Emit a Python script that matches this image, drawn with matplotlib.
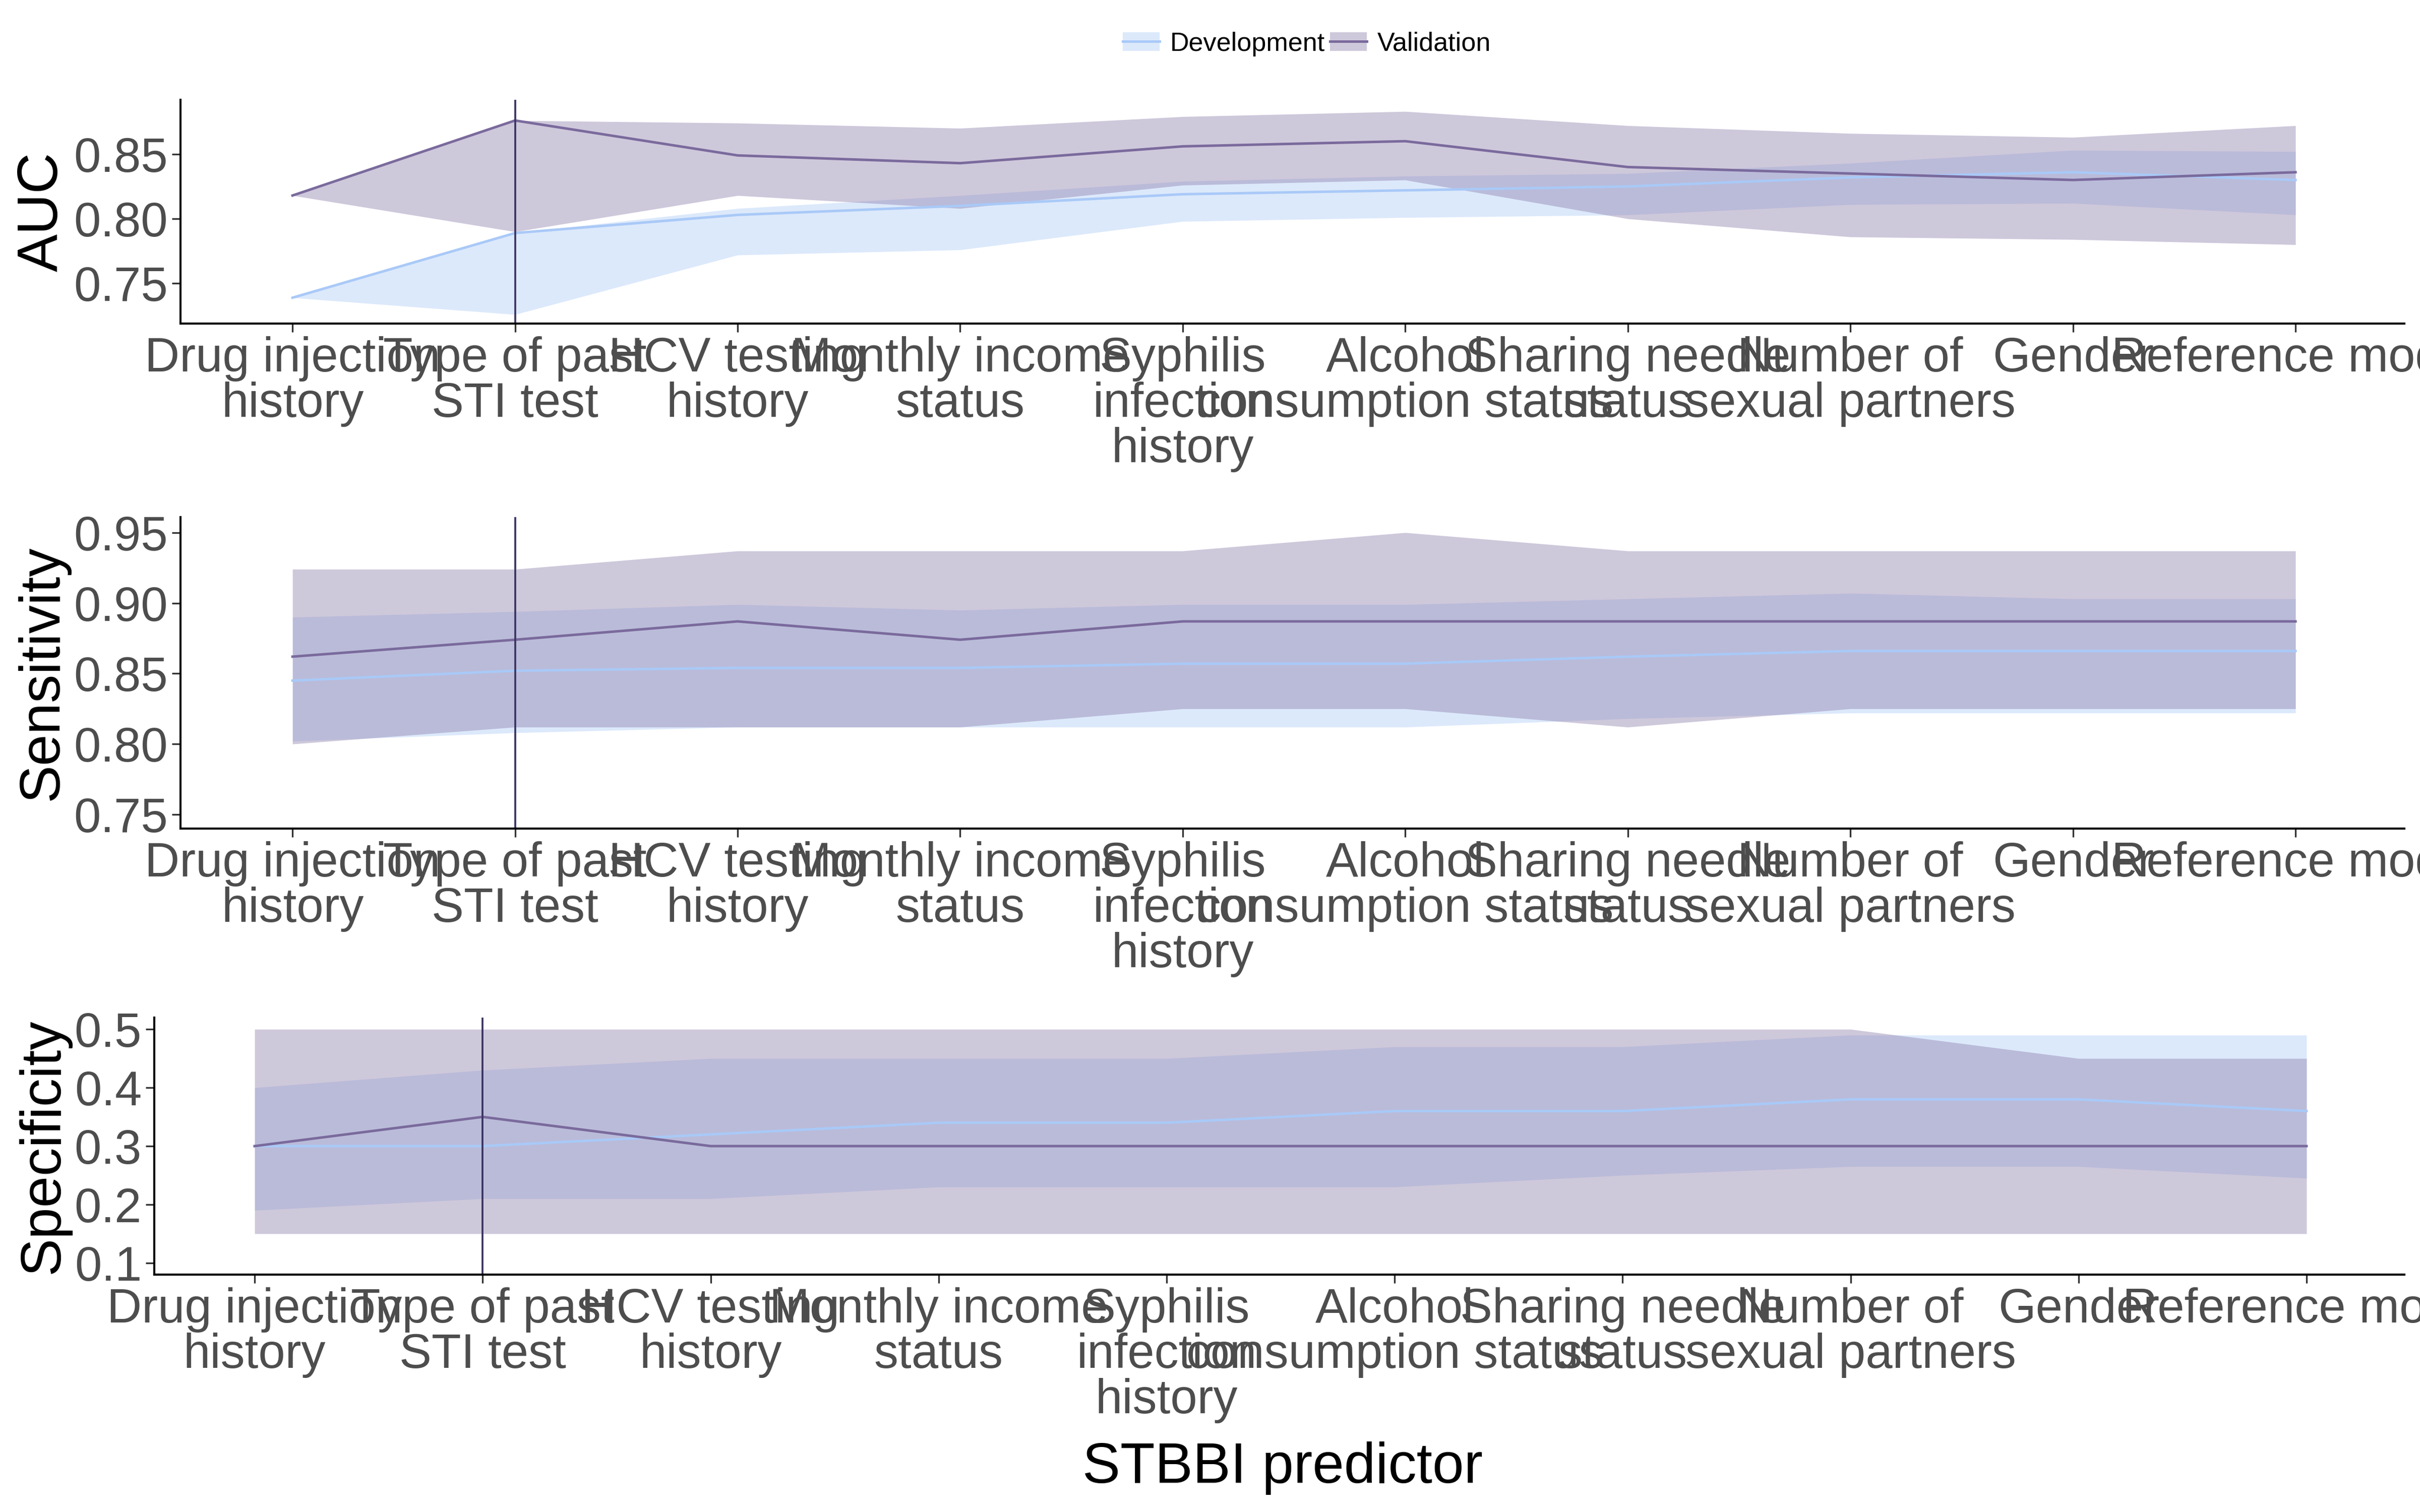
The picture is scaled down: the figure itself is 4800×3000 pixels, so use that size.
import matplotlib

matplotlib.use("Agg")
import matplotlib.pyplot as plt
from matplotlib.patches import Patch
from matplotlib.lines import Line2D

plt.rcParams["font.family"] = ["Liberation Sans", "DejaVu Sans"]

predictors = [
    "Drug injection\nhistory", "Type of past\nSTI test", "HCV testing\nhistory",
    "Monthly income\nstatus", "Syphilis\ninfection\nhistory", "Alcohol\nconsumption status",
    "Sharing needle\nstatus", "Number of\nsexual partners", "Gender", "Reference model",
]

auc_dev = [0.739, 0.789, 0.803, 0.810, 0.819, 0.822, 0.825, 0.832, 0.836, 0.830]
auc_dev_hi = [0.739, 0.789, 0.808, 0.818, 0.829, 0.833, 0.835, 0.843, 0.853, 0.852]
auc_dev_lo = [0.739, 0.726, 0.772, 0.776, 0.798, 0.801, 0.803, 0.811, 0.812, 0.803]
auc_val = [0.818, 0.876, 0.849, 0.843, 0.856, 0.860, 0.840, 0.835, 0.830, 0.836]
auc_val_hi = [0.818, 0.876, 0.874, 0.870, 0.879, 0.883, 0.872, 0.866, 0.863, 0.872]
auc_val_lo = [0.818, 0.790, 0.818, 0.808, 0.826, 0.830, 0.800, 0.786, 0.784, 0.780]

sen_dev = [0.845, 0.852, 0.854, 0.854, 0.857, 0.857, 0.862, 0.866, 0.866, 0.866]
sen_dev_hi = [0.890, 0.894, 0.899, 0.895, 0.899, 0.899, 0.903, 0.907, 0.903, 0.903]
sen_dev_lo = [0.802, 0.808, 0.812, 0.812, 0.812, 0.812, 0.818, 0.822, 0.822, 0.822]
sen_val = [0.862, 0.874, 0.887, 0.874, 0.887, 0.887, 0.887, 0.887, 0.887, 0.887]
sen_val_hi = [0.924, 0.924, 0.937, 0.937, 0.937, 0.950, 0.937, 0.937, 0.937, 0.937]
sen_val_lo = [0.800, 0.812, 0.812, 0.812, 0.825, 0.825, 0.812, 0.825, 0.825, 0.825]

spe_dev = [0.30, 0.30, 0.32, 0.34, 0.34, 0.36, 0.36, 0.38, 0.38, 0.36]
spe_dev_hi = [0.40, 0.43, 0.45, 0.45, 0.45, 0.47, 0.47, 0.49, 0.49, 0.49]
spe_dev_lo = [0.19, 0.21, 0.21, 0.23, 0.23, 0.23, 0.25, 0.265, 0.265, 0.245]
spe_val = [0.30, 0.35, 0.30, 0.30, 0.30, 0.30, 0.30, 0.30, 0.30, 0.30]
spe_val_hi = [0.50, 0.50, 0.50, 0.50, 0.50, 0.50, 0.50, 0.50, 0.45, 0.45]
spe_val_lo = [0.15, 0.15, 0.15, 0.15, 0.15, 0.15, 0.15, 0.15, 0.15, 0.15]

DEV_LINE, DEV_FILL = "#a9c9f7", "#a9c9f7"
VAL_LINE, VAL_FILL = "#7a6a9c", "#8c7caa"

panels = [
    ("AUC", [0.117 / 1.568, 0.786, (1.558 - 0.117) / 1.568, 0.148], (0.719, 0.892),
     [0.75, 0.80, 0.85], "{:.2f}", (-0.503, 9.49),
     auc_dev, auc_dev_lo, auc_dev_hi, auc_val, auc_val_lo, auc_val_hi),
    ("Sensitivity", [0.117 / 1.568, 0.452, (1.558 - 0.117) / 1.568, 0.206], (0.740, 0.961),
     [0.75, 0.80, 0.85, 0.90, 0.95], "{:.2f}", (-0.503, 9.49),
     sen_dev, sen_dev_lo, sen_dev_hi, sen_val, sen_val_lo, sen_val_hi),
    ("Specificity", [0.100 / 1.568, 0.157, (1.558 - 0.100) / 1.568, 0.170], (0.08, 0.52),
     [0.1, 0.2, 0.3, 0.4, 0.5], "{:.1f}", (-0.44, 9.43),
     spe_dev, spe_dev_lo, spe_dev_hi, spe_val, spe_val_lo, spe_val_hi),
]

fig = plt.figure(figsize=(16, 10), dpi=300)
x = list(range(len(predictors)))

for (name, rect, ylim, yticks, fmt, xlim,
     dev, dev_lo, dev_hi, val, val_lo, val_hi) in panels:
    ax = fig.add_axes(rect)
    ax.fill_between(x, dev_lo, dev_hi, color=DEV_FILL, alpha=0.4, linewidth=0)
    ax.fill_between(x, val_lo, val_hi, color=VAL_FILL, alpha=0.42, linewidth=0)
    ax.plot(x, dev, color=DEV_LINE, linewidth=1.2)
    ax.plot(x, val, color=VAL_LINE, linewidth=1.2)
    ax.axvline(1, color="#3b3462", linewidth=0.9)
    ax.set_xlim(*xlim)
    ax.set_ylim(*ylim)
    ax.set_yticks(yticks)
    ax.set_yticklabels([fmt.format(t) for t in yticks])
    ax.set_xticks(x)
    ax.set_xticklabels(predictors, linespacing=1.0)
    ax.tick_params(labelsize=23, labelcolor="#4d4d4d", length=4, width=0.8, color="#333333",
                   pad=2)
    ax.set_ylabel(name, fontsize=27, labelpad=2)
    for side in ("top", "right"):
        ax.spines[side].set_visible(False)
    for side in ("left", "bottom"):
        ax.spines[side].set_linewidth(1.0)

fig.text(0.53, 0.029, "STBBI predictor", fontsize=27, ha="center", va="center")

handles = [
    (Patch(facecolor=DEV_FILL, alpha=0.4), Line2D([], [], color=DEV_LINE, linewidth=1.2)),
    (Patch(facecolor=VAL_FILL, alpha=0.42), Line2D([], [], color=VAL_LINE, linewidth=1.2)),
]
fig.legend(handles, ["Development", "Validation"], loc="center", bbox_to_anchor=(0.54, 0.971),
           ncol=2, frameon=False, fontsize=12.5, handlelength=1.4, columnspacing=0.2,
           handletextpad=0.4)

fig.savefig("out.png", dpi=300)
plt.close(fig)
